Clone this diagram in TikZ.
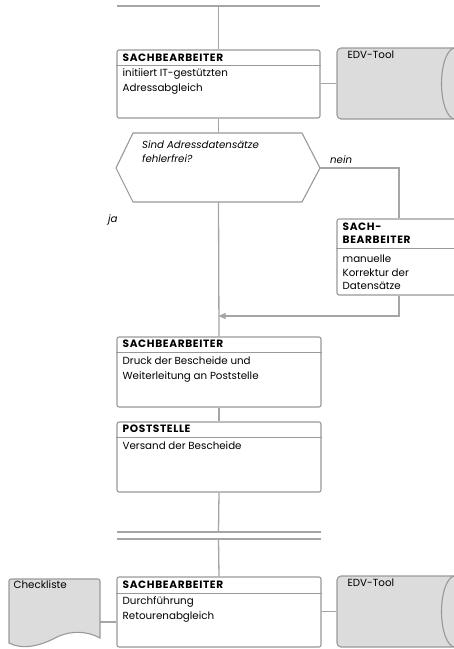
\documentclass[tikz,border=0pt]{standalone}
\usepackage{fontspec}
\setmainfont{Poppins}
\usetikzlibrary{arrows.meta}
\definecolor{ln}{HTML}{A5A5A5}
\definecolor{bd}{HTML}{999999}
\definecolor{tf}{HTML}{DCDCDC}
\tikzset{
  conn/.style={draw=ln, line width=1.3pt},
  procbox/.style={draw=bd, line width=1.1pt, rounded corners=2pt, fill=white, inner sep=0pt},
  sepline/.style={draw=bd, line width=1.1pt},
  toolbox/.style={draw=bd, line width=1.1pt, rounded corners=4pt, fill=tf, inner sep=0pt},
  hdr/.style={inner sep=0pt, align=left, font=\fontsize{10.6}{13.7}\selectfont\bfseries\addfontfeatures{LetterSpace=6}},
  body/.style={inner sep=0pt, align=left, font=\fontsize{10.3}{14.5}\selectfont},
  sbody/.style={inner sep=0pt, align=left, font=\fontsize{10.3}{13.3}\selectfont},
  itl/.style={inner sep=0pt, align=left, font=\fontsize{10.2}{14}\selectfont\itshape},
}
\begin{document}
\begin{tikzpicture}[x=1pt,y=-1pt]
\useasboundingbox (0,0) rectangle (454,649);
\clip (0,0) rectangle (454,649);

% top connector
\coordinate (tl) at (117,6);
\coordinate (tr) at (320,6);
\coordinate (tm) at (218.5,6);
\draw[conn] (tl) -- (tr);

% box 1
\node[procbox, minimum width=203pt, minimum height=68pt] (b1) at (218.5,84) {};
\draw[sepline] ([yshift=-16pt]b1.north west) -- ([yshift=-16pt]b1.north east);
\node[hdr, anchor=base west] (b1h) at ([xshift=6pt,yshift=-11.6pt]b1.north west) {SACHBEARBEITER};
\node[body, anchor=base west] (b1t) at ([xshift=6pt,yshift=-42pt]b1.north west) {initiiert IT-gestützten\\Adressabgleich};

% EDV tool 1
\node[toolbox, minimum width=140pt, minimum height=71pt] (e1) at (407,83.5) {};
\draw[draw=bd, line width=1.1pt] (455,48) .. controls (447.5,48) and (441.5,64) .. (441.5,83.5) .. controls (441.5,103) and (447.5,119) .. (455,119);
\node[body, anchor=base west] (e1t) at ([xshift=11pt,yshift=-11.3pt]e1.north west) {EDV-Tool};

% decision
\coordinate (dl) at (116,168);
\coordinate (dtl) at (133,133);
\coordinate (dtr) at (302,133);
\coordinate (dr) at (320,168);
\coordinate (dbr) at (302,202);
\coordinate (dbl) at (133,202);
\coordinate (dtop) at (218.5,133);
\coordinate (dbot) at (218.5,202);
\draw[draw=bd, line width=1.1pt, fill=white] (dl) -- (dtl) -- (dtr) -- (dr) -- (dbr) -- (dbl) -- cycle;
\node[itl, anchor=base west] (dq) at (142,162) {Sind Adressdatensätze\\fehlerfrei?};
\node[itl, anchor=base west] (nein) at (330,163) {nein};
\node[itl, anchor=base west] (ja) at (108,222.5) {ja};

% small box
\node[procbox, minimum width=124pt, minimum height=76pt] (b2) at (399,257) {};
\draw[sepline] ([yshift=-30pt]b2.north west) -- ([yshift=-30pt]b2.north east);
\node[hdr, anchor=base west] (b2h) at ([xshift=6pt,yshift=-25.3pt]b2.north west) {SACH-\\BEARBEITER};
\node[sbody, anchor=base west] (b2t) at ([xshift=6pt,yshift=-71pt]b2.north west) {manuelle\\Korrektur der\\Datensätze};
\coordinate (nk1) at (399,168);
\coordinate (nk2) at (399,316);
\coordinate (merge) at (218.5,316);

% box 3
\node[procbox, minimum width=204pt, minimum height=70pt] (b3) at (219,372) {};
\draw[sepline] ([yshift=-16pt]b3.north west) -- ([yshift=-16pt]b3.north east);
\node[hdr, anchor=base west] (b3h) at ([xshift=6pt,yshift=-11.4pt]b3.north west) {SACHBEARBEITER};
\node[body, anchor=base west] (b3t) at ([xshift=6pt,yshift=-43pt]b3.north west) {Druck der Bescheide und\\Weiterleitung an Poststelle};

% box 4
\node[procbox, minimum width=204pt, minimum height=70pt] (b4) at (219,457) {};
\draw[sepline] ([yshift=-16pt]b4.north west) -- ([yshift=-16pt]b4.north east);
\node[hdr, anchor=base west] (b4h) at ([xshift=6pt,yshift=-11.4pt]b4.north west) {POSTSTELLE};
\node[body, anchor=base west] (b4t) at ([xshift=6pt,yshift=-28.5pt]b4.north west) {Versand der Bescheide};

% double line
\coordinate (l1l) at (117,532);
\coordinate (l1r) at (321,532);
\coordinate (l2l) at (117,539);
\coordinate (l2r) at (321,539);
\coordinate (l1m) at (218.5,532);
\coordinate (l2m) at (218.5,539);
\draw[conn] (l1l) -- (l1r);
\draw[conn] (l2l) -- (l2r);

% box 5
\node[procbox, minimum width=204pt, minimum height=70pt] (b5) at (219,612) {};
\draw[sepline] ([yshift=-17pt]b5.north west) -- ([yshift=-17pt]b5.north east);
\node[hdr, anchor=base west] (b5h) at ([xshift=6pt,yshift=-11.6pt]b5.north west) {SACHBEARBEITER};
\node[body, anchor=base west] (b5t) at ([xshift=6pt,yshift=-43pt]b5.north west) {Durchführung\\Retourenabgleich};

% EDV tool 2
\node[toolbox, minimum width=140pt, minimum height=71pt] (e2) at (407,611.5) {};
\draw[draw=bd, line width=1.1pt] (455,576) .. controls (447.5,576) and (441.5,592) .. (441.5,611.5) .. controls (441.5,631) and (447.5,647) .. (455,647);
\node[body, anchor=base west] (e2t) at ([xshift=11pt,yshift=-11.3pt]e2.north west) {EDV-Tool};

% checklist
\draw[draw=bd, line width=1.1pt, fill=tf] (9,582) [rounded corners=2pt] -- (9,579) -- (100,579) [sharp corners] -- (100,638) .. controls (88,631) and (70,630) .. (55,638) .. controls (40,646) and (22,650) .. (9,643) -- cycle;
\coordinate (ck) at (100,622);
\node[body, anchor=base west] (ckt) at (13.5,588.5) {Checkliste};

% connectors
\draw[conn] (tm) -- (b1.north);
\draw[conn] (b1.east |- e1.west) -- (e1.west);
\draw[conn] (b1.south) -- (dtop);
\draw[conn] (dbot) -- (b3.north);
\draw[conn] (dr) -- (nk1) -- (b2.north);
\draw[conn, -{Triangle[length=7pt,width=6pt]}] (b2.south) -- (nk2) -- (merge);
\draw[conn] (b3.south) -- (b4.north);
\draw[conn] (b4.south) -- (l1m);
\draw[conn] (l2m) -- (b5.north);
\draw[conn] (b5.east |- e2.west) -- (e2.west);
\draw[conn] (ck) -- (ck -| b5.west);
\end{tikzpicture}
\end{document}
